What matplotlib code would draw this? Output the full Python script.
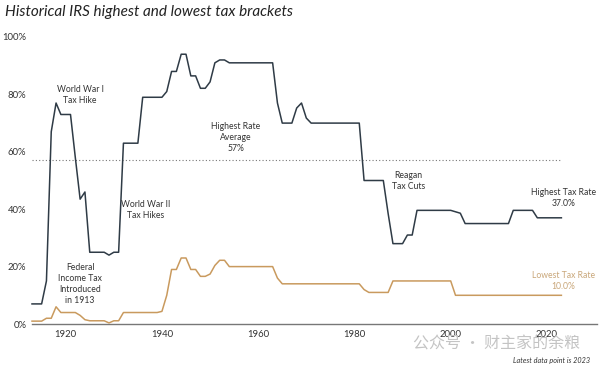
import matplotlib.pyplot as plt

# data
years = list(range(1913, 2024))

top_rate = ([7, 7, 7, 15, 67, 77, 73, 73, 73, 58, 43.5, 46, 25, 25, 25, 25, 24, 25, 25,
             63, 63, 63, 63, 79, 79, 79, 79, 79, 81, 88, 88, 94, 94, 86.45, 86.45,
             82.13, 82.13, 84.36, 91, 92, 92]
            + [91] * 10
            + [77, 70, 70, 70, 75.25, 77, 71.75]
            + [70] * 11
            + [50] * 5
            + [38.5, 28, 28, 28, 31, 31]
            + [39.6] * 8
            + [39.1, 38.6]
            + [35] * 10
            + [39.6] * 5
            + [37] * 6)

low_rate = ([1, 1, 1, 2, 2, 6, 4, 4, 4, 4, 3, 1.5, 1.125, 1.125, 1.125, 1.125, 0.375,
             1.125, 1.125, 4, 4, 4, 4, 4, 4, 4, 4, 4.4, 10, 19, 19, 23, 23, 19, 19,
             16.6, 16.6, 17.4, 20.4, 22.2, 22.2]
            + [20] * 10
            + [16]
            + [14] * 17
            + [12, 11, 11, 11, 11, 11]
            + [15] * 13
            + [10] * 23)

avg_top = 57
x_ticks = [1920, 1940, 1960, 1980, 2000, 2020]
y_ticks = [0, 20, 40, 60, 80, 100]

DARK = '#2f3b46'
GOLD = '#c99a5e'

plt.rcParams['font.family'] = ['Lato', 'DejaVu Sans']

fig = plt.figure(figsize=(6, 3.69), dpi=100)
ax = fig.add_axes([32 / 600, 1 - 324 / 369, (597 - 32) / 600, (324 - 37) / 369])

ax.plot(years, top_rate, color=DARK, lw=1.1, clip_on=False, zorder=3)
ax.plot(years, low_rate, color=GOLD, lw=1.1, clip_on=False, zorder=3)
ax.plot([1913, 2023], [avg_top, avg_top], color='#777777', lw=0.8, ls=(0, (1, 2)))

ax.set_xlim(1913, 2030.4)
ax.set_ylim(0, 100)
ax.set_xticks(x_ticks)
ax.set_xticklabels([str(y) for y in x_ticks])
ax.set_yticks(y_ticks)
ax.set_yticklabels([f'{y}%' for y in y_ticks])
ax.tick_params(length=0, labelsize=6.8, colors='#333333', pad=4)
for s in ['top', 'right', 'left']:
    ax.spines[s].set_visible(False)
ax.spines['bottom'].set_color('#777777')
ax.spines['bottom'].set_linewidth(1)

note = dict(ha='center', va='center', fontsize=6.2, color='#333333', linespacing=1.3)
ax.text(1923, 79.8, 'World War I\nTax Hike', **note)
ax.text(1923, 13.9, 'Federal\nIncome Tax\nIntroduced\nin 1913', **note)
ax.text(1936.7, 39.7, 'World War II\nTax Hikes', **note)
ax.text(1955.4, 65, 'Highest Rate\nAverage\n57%', **note)
ax.text(1991.2, 49.8, 'Reagan\nTax Cuts', **note)
ax.text(2023.4, 43.9, 'Highest Tax Rate\n37.0%', **note)
ax.text(2023.4, 15, 'Lowest Tax Rate\n10.0%', ha='center', va='center', fontsize=6.2,
        color='#c9a77a', linespacing=1.3)

fig.text(5 / 600, 1 - 12 / 369, 'Historical IRS highest and lowest tax brackets',
         fontsize=11, style='italic', color='#222222', ha='left', va='center')
fig.text(590 / 600, 1 - 361 / 369, 'Latest data point is 2023', fontsize=5.2,
         style='italic', color='#333333', ha='right', va='center')

# watermark
fig.text(413 / 600, 1 - 344 / 369, '公众号 · 财主家的余粮', fontsize=11.5,
         color='#c4c4c4', ha='left', va='center', zorder=0,
         family=['Noto Sans CJK SC', 'DejaVu Sans'])

fig.savefig('out.png', dpi=100)
